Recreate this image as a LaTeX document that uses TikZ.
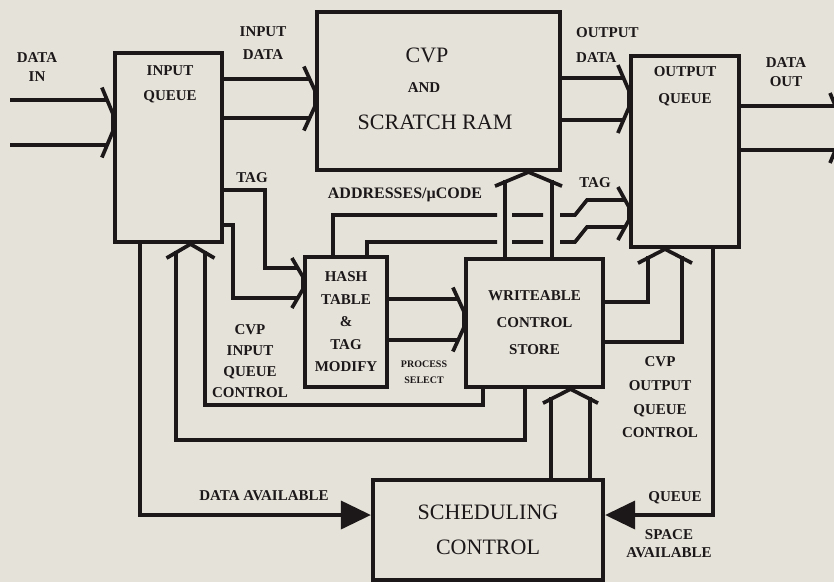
\documentclass[tikz,border=0pt]{standalone}
\usepackage{fontspec}
\setmainfont{Liberation Serif}
\usetikzlibrary{arrows.meta,positioning,calc}
\definecolor{paper}{RGB}{229,226,217}
\definecolor{ink}{RGB}{28,24,26}
\tikzset{
  >={Triangle[length=30pt,width=28pt]},
  blk/.style={draw=ink,line width=4.2pt},
  wire/.style={draw=ink,line width=3.7pt},
  lbl/.style={font=\fontsize{15}{#1}\selectfont\bfseries,text=ink,align=center,inner sep=0pt},
  lbl/.default=23,
  small lbl/.style={font=\fontsize{10}{16}\selectfont\bfseries,text=ink,align=center,inner sep=0pt},
  big/.style={font=\fontsize{22}{35}\selectfont,text=ink,align=center,inner sep=0pt},
  % bus arrow heads
  pics/bus right/.style={code={
    \draw[wire] (-11,-#1) -- (0,-#1/4) -- (0,#1/4) -- (-11,#1);
  }},
  pics/bus up/.style={code={
    \draw[wire] (-#1,14) -- (0,0) -- (#1,14);
  }},
}
\begin{document}
\begin{tikzpicture}[x=1pt,y=-1pt]
    \path[use as bounding box,fill=paper] (0,0) rectangle (834,582);
    \node[blk,minimum width=107pt,minimum height=189pt] (inq) at (168.5,147.5) {};
    \node[blk,minimum width=243pt,minimum height=158pt] (cvp) at (438.5,91) {};
    \node[blk,minimum width=108pt,minimum height=191pt] (outq) at (685,151.5) {};
    \node[blk,lbl=22.5,minimum width=82pt,minimum height=130pt] (hash) at (346,322) {HASH\\TABLE\\\&\\TAG\\MODIFY};
    \node[blk,lbl=27,minimum width=137pt,minimum height=128pt] (wcs) at (534.5,323) {WRITEABLE\\CONTROL\\STORE};
    \node[blk,big,minimum width=230pt,minimum height=100pt] (sched) at (488,530) {SCHEDULING\\CONTROL};
    \node[lbl=25] (inqtxt) at (170,84.5) {INPUT\\QUEUE};
    \node[lbl=27] (outqtxt) at (685,86.5) {OUTPUT\\QUEUE};
    \node[big] (cvptxt) at (427,55) {CVP};
    \node[lbl] (andtxt) at (424,88) {AND};
    \node[big] (ramtxt) at (435,122) {SCRATCH RAM};
    \coordinate (lft) at (10,0);
    \coordinate (rgt) at (834,0);
    % data path
    \draw[wire] (lft |- 0,100) -- ([xshift=-6pt]inq.west |- 0,100) (lft |- 0,145) -- ([xshift=-6pt]inq.west |- 0,145);
    \pic at (inq.west |- 0,122.5) {bus right=35};
    \draw[wire] (inq.east |- 0,79) -- ([xshift=-5pt]cvp.west |- 0,79) (inq.east |- 0,118) -- ([xshift=-5pt]cvp.west |- 0,118);
    \pic at (cvp.west |- 0,98.5) {bus right=32};
    \draw[wire] (cvp.east |- 0,78) -- ([xshift=-5pt]outq.west |- 0,78) (cvp.east |- 0,120) -- ([xshift=-5pt]outq.west |- 0,120);
    \pic at (outq.west |- 0,99) {bus right=34};
    \draw[wire] (outq.east |- 0,106) -- (rgt |- 0,106) (outq.east |- 0,150) -- (rgt |- 0,150);
    \pic at (841,128) {bus right=35};
    % tags
    \draw[wire] (inq.east |- 0,190) -| (265,268) -- ([xshift=-5pt]hash.west |- 0,268);
    \draw[wire] (inq.east |- 0,225) -| (233,298) -- ([xshift=-5pt]hash.west |- 0,298);
    \pic at (hash.west |- 0,283) {bus right=25};
    \draw[wire] (hash.east |- 0,299) -- ([xshift=-5pt]wcs.west |- 0,299) (hash.east |- 0,340) -- ([xshift=-5pt]wcs.west |- 0,340);
    \pic at (wcs.west |- 0,319.5) {bus right=32};
    \draw[wire] ([xshift=-13pt]hash.north) |- (497,215) (512,215) -- (543,215)
      (560,215) -- (575,215) -- (587,200) -- ([xshift=-5pt]outq.west |- 0,200);
    \draw[wire] ([xshift=21pt]hash.north) |- (497,242) (512,242) -- (543,242)
      (560,242) -- (575,242) -- (587,227) -- ([xshift=-5pt]outq.west |- 0,227);
    \pic at (outq.west |- 0,213.5) {bus right=26.5};
    % control buses
    \draw[wire] (wcs.north -| 505,0) -- (505,180) (wcs.north -| 552,0) -- (552,180);
    \pic at (cvp.south -| 528.5,0) {bus up=33.5};
    \draw[wire] (wcs.east |- 0,302) -| (648,256) (wcs.east |- 0,342) -| (682,256);
    \pic at (outq.south -| 665,0) {bus up=27};
    \draw[wire] (sched.north -| 551,0) -- (551,397) (sched.north -| 590,0) -- (590,397);
    \pic at (wcs.south -| 570.5,0) {bus up=27.5};
    \draw[wire] (wcs.south -| 483,0) |- (205,405) -- (205,251) (wcs.south -| 525,0) |- (176,440) -- (176,251);
    \pic at (inq.south -| 190.5,0) {bus up=24};
    \draw[wire,->] (inq.south -| 140,0) |- (sched.west |- 0,515);
    \draw[wire,->] (outq.south -| 713,0) |- (sched.east |- 0,515);
    % labels
    \node[lbl=19] (din) at (37,67.5) {DATA\\IN};
    \node[lbl=23] (indata) at (263,43.5) {INPUT\\DATA};
    \node[lbl=25,align=left,anchor=west] (outdata) at (576,45.5) {OUTPUT\\DATA};
    \node[lbl=19] (dout) at (786,72.5) {DATA\\OUT};
    \node[lbl] (tagin) at (252,178) {TAG};
    \node[lbl,font=\fontsize{16}{20}\selectfont\bfseries] (addr) at (405,195) {ADDRESSES/µCODE};
    \node[lbl] (tagout) at (595,183) {TAG};
    \node[lbl=21] (iqc) at (250,361) {CVP\\INPUT\\QUEUE\\CONTROL};
    \node[small lbl] (psel) at (424,372) {PROCESS\\SELECT};
    \node[lbl=23.7] (oqc) at (660,397.5) {CVP\\OUTPUT\\QUEUE\\CONTROL};
    \node[lbl] (davail) at (264,496) {DATA AVAILABLE};
    \node[lbl] (queue) at (675,498) {QUEUE};
    \node[lbl=18] (savail) at (669,544) {SPACE\\AVAILABLE};
\end{tikzpicture}
\end{document}
